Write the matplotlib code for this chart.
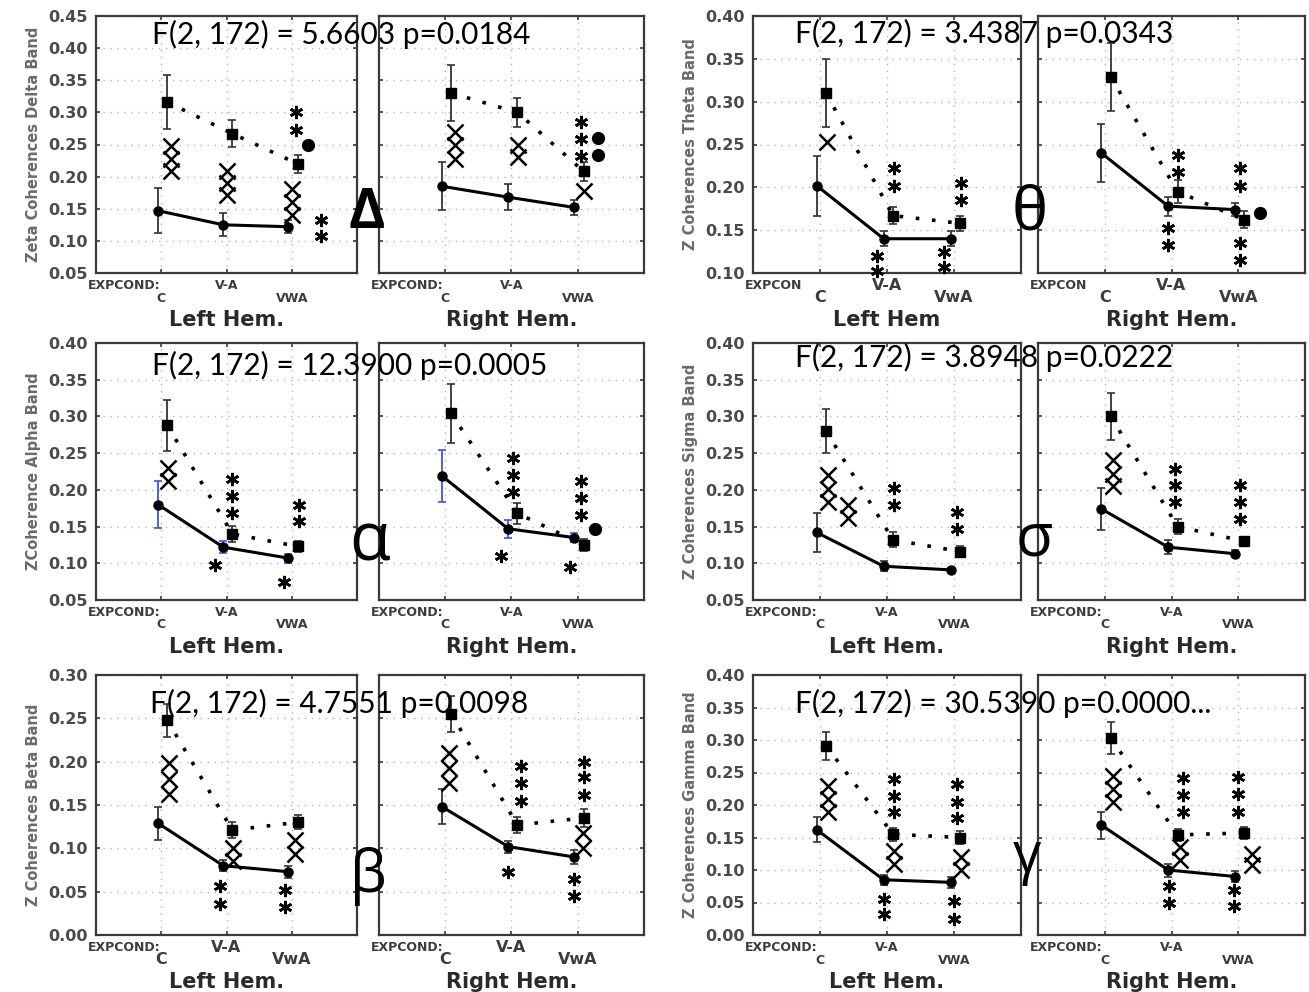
import matplotlib
matplotlib.use('Agg')
import matplotlib.pyplot as plt
import numpy as np

W, H = 1309, 992

categories = ['C', 'V-A', 'VwA']

# each band: [left hemisphere, right hemisphere]
delta_solid = [[0.147, 0.125, 0.122], [0.185, 0.168, 0.152]]
delta_solid_err = [[0.035, 0.018, 0.010], [0.037, 0.020, 0.011]]
delta_dotted = [[0.316, 0.267, 0.220], [0.330, 0.300, 0.208]]
delta_dotted_err = [[0.042, 0.021, 0.014], [0.043, 0.023, 0.015]]
delta_marks = [
    (0, 0.15, [0.247, 0.228, 0.208], 'x'),
    (0, 1.0, [0.208, 0.190, 0.172], 'x'),
    (0, 2.0, [0.180, 0.160, 0.140], 'x'),
    (0, 2.07, [0.300, 0.272], '*'),
    (0, 2.25, [0.250], 'o'),
    (0, 2.45, [0.133, 0.108], '*'),
    (1, 0.15, [0.270, 0.250, 0.228], 'x'),
    (1, 1.1, [0.250, 0.230], 'x'),
    (1, 2.05, [0.285, 0.258, 0.232], '*'),
    (1, 2.3, [0.260, 0.233], 'o'),
    (1, 2.1, [0.178], 'x'),
]

theta_solid = [[0.202, 0.140, 0.140], [0.240, 0.178, 0.174]]
theta_solid_err = [[0.035, 0.009, 0.009], [0.034, 0.011, 0.008]]
theta_dotted = [[0.310, 0.167, 0.158], [0.329, 0.195, 0.162]]
theta_dotted_err = [[0.040, 0.010, 0.009], [0.040, 0.013, 0.010]]
theta_marks = [
    (0, 0.1, [0.253], 'x'),
    (0, 1.1, [0.222, 0.201], '*'),
    (0, 0.85, [0.120, 0.102], '*'),
    (0, 2.1, [0.205, 0.185], '*'),
    (0, 1.85, [0.125, 0.107], '*'),
    (1, 1.1, [0.238, 0.218], '*'),
    (1, 0.95, [0.153, 0.133], '*'),
    (1, 2.03, [0.222, 0.202], '*'),
    (1, 2.03, [0.135, 0.115], '*'),
    (1, 2.33, [0.170], 'o'),
]

alpha_solid = [[0.180, 0.122, 0.107], [0.219, 0.147, 0.135]]
alpha_solid_err = [[0.032, 0.008, 0.006], [0.035, 0.012, 0.006]]
alpha_dotted = [[0.288, 0.140, 0.123], [0.304, 0.168, 0.125]]
alpha_dotted_err = [[0.035, 0.011, 0.007], [0.040, 0.014, 0.008]]
alpha_marks = [
    (0, 0.1, [0.230, 0.212], 'x'),
    (0, 1.08, [0.215, 0.192, 0.169], '*'),
    (0, 0.82, [0.097], '*'),
    (0, 2.11, [0.180, 0.157], '*'),
    (0, 1.88, [0.075], '*'),
    (1, 1.03, [0.243, 0.220, 0.197], '*'),
    (1, 0.84, [0.110], '*'),
    (1, 2.05, [0.212, 0.189, 0.166], '*'),
    (1, 1.89, [0.095], '*'),
    (1, 2.26, [0.147], 'o'),
]

sigma_solid = [[0.142, 0.096, 0.091], [0.174, 0.122, 0.113]]
sigma_solid_err = [[0.027, 0.007, 0.003], [0.029, 0.010, 0.005]]
sigma_dotted = [[0.280, 0.132, 0.116], [0.300, 0.150, 0.130]]
sigma_dotted_err = [[0.030, 0.010, 0.007], [0.032, 0.010, 0.006]]
sigma_marks = [
    (0, 0.12, [0.220, 0.201, 0.183], 'x'),
    (0, 0.42, [0.180, 0.162], 'x'),
    (0, 1.1, [0.202, 0.180], '*'),
    (0, 2.05, [0.170, 0.147], '*'),
    (1, 0.12, [0.240, 0.222, 0.205], 'x'),
    (1, 1.05, [0.228, 0.206, 0.184], '*'),
    (1, 2.03, [0.206, 0.184, 0.160], '*'),
]

beta_solid = [[0.129, 0.080, 0.073], [0.148, 0.102, 0.090]]
beta_solid_err = [[0.019, 0.006, 0.007], [0.020, 0.007, 0.008]]
beta_dotted = [[0.248, 0.121, 0.130], [0.255, 0.127, 0.135]]
beta_dotted_err = [[0.019, 0.009, 0.008], [0.021, 0.009, 0.010]]
beta_marks = [
    (0, 0.12, [0.198, 0.180, 0.163], 'x'),
    (0, 1.1, [0.100, 0.085], 'x'),
    (0, 0.9, [0.056, 0.036], '*'),
    (0, 2.05, [0.110, 0.093], 'x'),
    (0, 1.9, [0.052, 0.032], '*'),
    (1, 0.05, [0.210, 0.193, 0.175], 'x'),
    (1, 1.14, [0.195, 0.175, 0.155], '*'),
    (1, 0.94, [0.073], '*'),
    (1, 2.1, [0.200, 0.182, 0.162], '*'),
    (1, 2.08, [0.118, 0.100], 'x'),
    (1, 1.95, [0.065, 0.045], '*'),
]

gamma_solid = [[0.162, 0.085, 0.081], [0.169, 0.100, 0.090]]
gamma_solid_err = [[0.019, 0.008, 0.008], [0.021, 0.010, 0.008]]
gamma_dotted = [[0.291, 0.155, 0.150], [0.303, 0.154, 0.157]]
gamma_dotted_err = [[0.022, 0.010, 0.010], [0.024, 0.009, 0.009]]
gamma_marks = [
    (0, 0.12, [0.230, 0.210, 0.190], 'x'),
    (0, 1.1, [0.240, 0.214, 0.189], '*'),
    (0, 1.1, [0.130, 0.110], 'x'),
    (0, 0.95, [0.055, 0.033], '*'),
    (0, 2.05, [0.232, 0.205, 0.180], '*'),
    (0, 2.1, [0.120, 0.100], 'x'),
    (0, 2.0, [0.052, 0.025], '*'),
    (1, 0.12, [0.245, 0.225, 0.205], 'x'),
    (1, 1.17, [0.242, 0.215, 0.190], '*'),
    (1, 1.12, [0.135, 0.115], 'x'),
    (1, 0.97, [0.075, 0.050], '*'),
    (1, 2.0, [0.243, 0.217, 0.190], '*'),
    (1, 2.2, [0.125, 0.108], 'x'),
    (1, 1.93, [0.070, 0.045], '*'),
]

panels = [
    dict(solid=delta_solid, solid_err=delta_solid_err, dotted=delta_dotted,
         dotted_err=delta_dotted_err, marks=delta_marks,
         ylim=(0.05, 0.45), ylabel='Zeta Coherences Delta Band',
         ftext='F(2, 172) = 5.6603 p=0.0184', greek='Δ',
         xlabels=('Left Hem.', 'Right Hem.'), cond='EXPCOND:',
         ticks=['C', 'V-A', 'VWA'], tfs=9),
    dict(solid=theta_solid, solid_err=theta_solid_err, dotted=theta_dotted,
         dotted_err=theta_dotted_err, marks=theta_marks,
         ylim=(0.10, 0.40), ylabel='Z Coherences Theta Band',
         ftext='F(2, 172) = 3.4387 p=0.0343', greek='θ',
         xlabels=('Left Hem', 'Right Hem.'), cond='EXPCON',
         ticks=['C', 'V-A', 'VwA'], tfs=11.5),
    dict(solid=alpha_solid, solid_err=alpha_solid_err, dotted=alpha_dotted,
         dotted_err=alpha_dotted_err, marks=alpha_marks,
         ylim=(0.05, 0.40), ylabel='ZCoherence Alpha Band',
         ftext='F(2, 172) = 12.3900 p=0.0005', greek='α',
         xlabels=('Left Hem.', 'Right Hem.'), cond='EXPCOND:',
         ticks=['C', 'V-A', 'VWA'], tfs=9, blue=True),
    dict(solid=sigma_solid, solid_err=sigma_solid_err, dotted=sigma_dotted,
         dotted_err=sigma_dotted_err, marks=sigma_marks,
         ylim=(0.05, 0.40), ylabel='Z Coherences Sigma Band',
         ftext='F(2, 172) = 3.8948 p=0.0222', greek='σ',
         xlabels=('Left Hem.', 'Right Hem.'), cond='EXPCOND:',
         ticks=['C', 'V-A', 'VWA'], tfs=9),
    dict(solid=beta_solid, solid_err=beta_solid_err, dotted=beta_dotted,
         dotted_err=beta_dotted_err, marks=beta_marks,
         ylim=(0.00, 0.30), ylabel='Z Coherences Beta Band',
         ftext='F(2, 172) = 4.7551 p=0.0098', greek='β',
         xlabels=('Left Hem.', 'Right Hem.'), cond='EXPCOND:',
         ticks=['C', 'V-A', 'VwA'], tfs=11.5),
    dict(solid=gamma_solid, solid_err=gamma_solid_err, dotted=gamma_dotted,
         dotted_err=gamma_dotted_err, marks=gamma_marks,
         ylim=(0.00, 0.40), ylabel='Z Coherences Gamma Band',
         ftext='F(2, 172) = 30.5390 p=0.0000...', greek='γ',
         xlabels=('Left Hem.', 'Right Hem.'), cond='EXPCOND:',
         ticks=['C', 'V-A', 'VWA'], tfs=9),
]

# pixel boxes of the left / right sub-plots in each column and row
col_boxes = [((96, 357), (379, 644)), ((753, 1021), (1038, 1305))]
row_boxes = [(16, 273), (343, 600), (675, 935)]
greek_pos = [(367, 213), (1030, 214), (370, 543), (1034, 540), (368, 876), (1027, 858)]
greek_size = [40, 44, 48, 44, 42, 40]
ftext_pos = [(152, 44), (795, 43), (152, 375), (795, 367), (150, 713), (795, 713)]

FRAME = '#3a3a3a'
TXT = '#3c3c3c'

fig = plt.figure(figsize=(W / 100, H / 100), dpi=100)
fig.patch.set_facecolor('white')


def px_axes(x0, x1, y0, y1):
    return fig.add_axes([x0 / W, 1 - y1 / H, (x1 - x0) / W, (y1 - y0) / H])


x = np.arange(3)
for i, p in enumerate(panels):
    row, col = divmod(i, 2)
    y0, y1 = row_boxes[row]
    for side in range(2):
        bx0, bx1 = col_boxes[col][side]
        ax = px_axes(bx0, bx1, y0, y1)
        ax.set_xlim(-1, 3)
        ax.set_ylim(*p['ylim'])
        ax.set_yticks(np.arange(p['ylim'][0], p['ylim'][1] + 1e-9, 0.05))
        ax.set_xticks(x)
        ax.grid(True, color='#b5b5b5', linestyle=(0, (1, 4)), linewidth=1)
        ax.tick_params(direction='in', length=3, width=1.2, color=FRAME,
                       top=True, right=True, labelbottom=False)
        for s in ax.spines.values():
            s.set_color(FRAME)
            s.set_linewidth(1.6)
        if side == 0:
            ax.set_yticklabels([f'{v:.2f}' for v in ax.get_yticks()],
                               fontsize=11.5, fontweight='bold', color='#4a4a4a')
            ax.tick_params(axis='y', pad=6)
            ax.set_ylabel(p['ylabel'], fontsize=10.5, fontweight='bold', color='#6a6a6a',
                          labelpad=5)
        else:
            ax.set_yticklabels([])

        # condition labels under the axis, staggered
        ax.annotate(p['cond'], xy=(0, 0), xycoords='axes fraction',
                    xytext=(-6, -9), textcoords='offset points', ha='left', va='center',
                    fontsize=9, fontweight='bold', color=TXT)
        for k, lab in enumerate(p['ticks']):
            dy = -9 if k == 1 else -18
            ax.annotate(lab, xy=(k, 0), xycoords=('data', 'axes fraction'),
                        xytext=(0, dy), textcoords='offset points', ha='center',
                        va='center', fontsize=p['tfs'], fontweight='bold', color=TXT)
        ax.annotate(p['xlabels'][side], xy=(0.5, 0), xycoords='axes fraction',
                    xytext=(0, -34), textcoords='offset points', ha='center',
                    va='center', fontsize=15, fontweight='bold', color='#2a2a2a')

        # lines with error bars
        ecol = '#3f52e0' if p.get('blue') else '#333333'
        ax.errorbar(x - 0.05, p['solid'][side], yerr=p['solid_err'][side], fmt='none',
                    ecolor=ecol, elinewidth=1.3, capsize=3, capthick=1.2, zorder=3)
        ax.plot(x - 0.05, p['solid'][side], color='black', linewidth=2.2, marker='o',
                markersize=6.5, zorder=4)
        ax.errorbar(x + 0.09, p['dotted'][side], yerr=p['dotted_err'][side], fmt='none',
                    ecolor='#333333', elinewidth=1.3, capsize=3, capthick=1.2, zorder=3)
        ax.plot(x + 0.09, p['dotted'][side], color='black', linewidth=2.6,
                linestyle=(0, (1, 3.5)), marker='s', markersize=7, zorder=4)

        # significance marks
        for s_side, mx, ys, sym in p['marks']:
            if s_side != side:
                continue
            if sym == 'x':
                ax.plot([mx] * len(ys), ys, linestyle='none', marker='x', markersize=11,
                        markeredgewidth=1.8, color='black', clip_on=False, zorder=5)
            elif sym == '*':
                ax.plot([mx] * len(ys), ys, linestyle='none', marker=(6, 2, 0),
                        markersize=9.5, markeredgewidth=1.9, color='black',
                        clip_on=False, zorder=5)
            else:
                ax.plot([mx] * len(ys), ys, linestyle='none', marker='o', markersize=8.5,
                        color='black', clip_on=False, zorder=5)

    gx, gy = greek_pos[i]
    fig.text(gx / W, 1 - gy / H, p['greek'], ha='center', va='center',
             fontsize=greek_size[i], family=['Open Sans', 'DejaVu Sans'],
             fontweight='bold' if p['greek'] == 'Δ' else 'normal', color='black')
    fx, fy = ftext_pos[i]
    fig.text(fx / W, 1 - fy / H, p['ftext'], ha='left', va='baseline',
             fontsize=21.5, family=['Lato', 'DejaVu Sans'], color='black')

fig.savefig('out.png', dpi=100)
